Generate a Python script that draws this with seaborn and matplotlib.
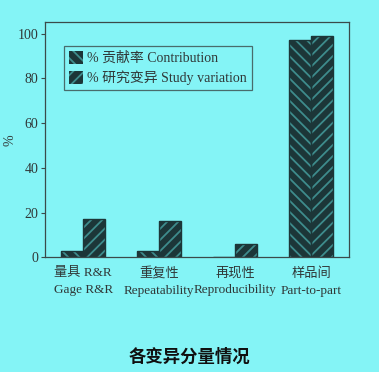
import matplotlib
matplotlib.use('Agg')
import matplotlib.pyplot as plt
import matplotlib.patches as mpatches
import pandas as pd
import seaborn as sns

# values
components = ['量具 R&R\nGage R&R', '重复性\nRepeatability',
              '再现性\nReproducibility', '样品间\nPart-to-part']
contribution = [3.0, 2.8, 0.3, 97.3]
study_variation = [17.2, 16.4, 6.0, 99.0]
series_names = ['% 贡献率 Contribution', '% 研究变异 Study variation']
y_ticks = [0, 20, 40, 60, 80, 100]

bg = '#84f4f6'
bar_dark = '#1c3638'
hatch_light = '#3e8c8c'
line_col = '#3a4a4a'

sns.set_theme(style='white')
plt.rcParams['font.family'] = ['Liberation Serif', 'Noto Sans CJK SC']
plt.rcParams['hatch.linewidth'] = 1.3

df = pd.DataFrame({
    'component': components * 2,
    'series': [series_names[0]] * 4 + [series_names[1]] * 4,
    'value': contribution + study_variation,
})

fig = plt.figure(figsize=(3.79, 3.72), dpi=100, facecolor=bg)
ax = fig.add_axes([0.119, 0.308, 0.802, 0.632])
ax.set_facecolor(bg)

sns.barplot(data=df, x='component', y='value', hue='series',
            order=components, hue_order=series_names,
            width=0.58, gap=0, dodge=True, ax=ax, legend=False)

hatches = ['\\\\\\', '///']
for cont, h in zip(ax.containers, hatches):
    for bar in cont:
        bar.set_facecolor(bar_dark)
        bar.set_edgecolor(hatch_light)
        bar.set_hatch(h)
        bar.set_linewidth(0)
        outline = mpatches.Rectangle(bar.get_xy(), bar.get_width(), bar.get_height(),
                                     fill=False, edgecolor=bar_dark, linewidth=1.0)
        ax.add_patch(outline)

ax.set_xlim(-0.5, 3.5)
ax.set_ylim(0, 105)
ax.set_yticks(y_ticks)
ax.set_xlabel('')
ax.set_ylabel('%', fontsize=10, color='#303838', labelpad=1)
ax.tick_params(axis='y', direction='out', length=3, width=0.8, colors=line_col,
               labelsize=10, labelcolor='#303838', pad=2, left=True)
ax.tick_params(axis='x', length=0, labelsize=9.5, labelcolor='#303838', pad=7)
for lbl in ax.get_xticklabels():
    lbl.set_linespacing(1.55)
for sp in ax.spines.values():
    sp.set_color(line_col)
    sp.set_linewidth(0.9)

handles = [mpatches.Patch(facecolor=bar_dark, edgecolor=hatch_light, hatch=h, linewidth=0, label=n)
           for h, n in zip(hatches, series_names)]
leg = ax.legend(handles=handles, loc='upper left', bbox_to_anchor=(0.04, 0.93),
                fontsize=10, frameon=True, fancybox=False, handlelength=1.0,
                handleheight=1.1, handletextpad=0.3, borderpad=0.35, labelspacing=0.4)
leg.get_frame().set_facecolor(bg)
leg.get_frame().set_edgecolor(line_col)
leg.get_frame().set_linewidth(0.9)
for t in leg.get_texts():
    t.set_color('#303838')

fig.text(0.5, 0.04, '各变异分量情况', ha='center', va='center', fontsize=12.5,
         fontweight='bold', family=['Noto Sans CJK SC', 'DejaVu Sans'], color='#101010')

fig.savefig('out.png', dpi=100, facecolor=bg)
